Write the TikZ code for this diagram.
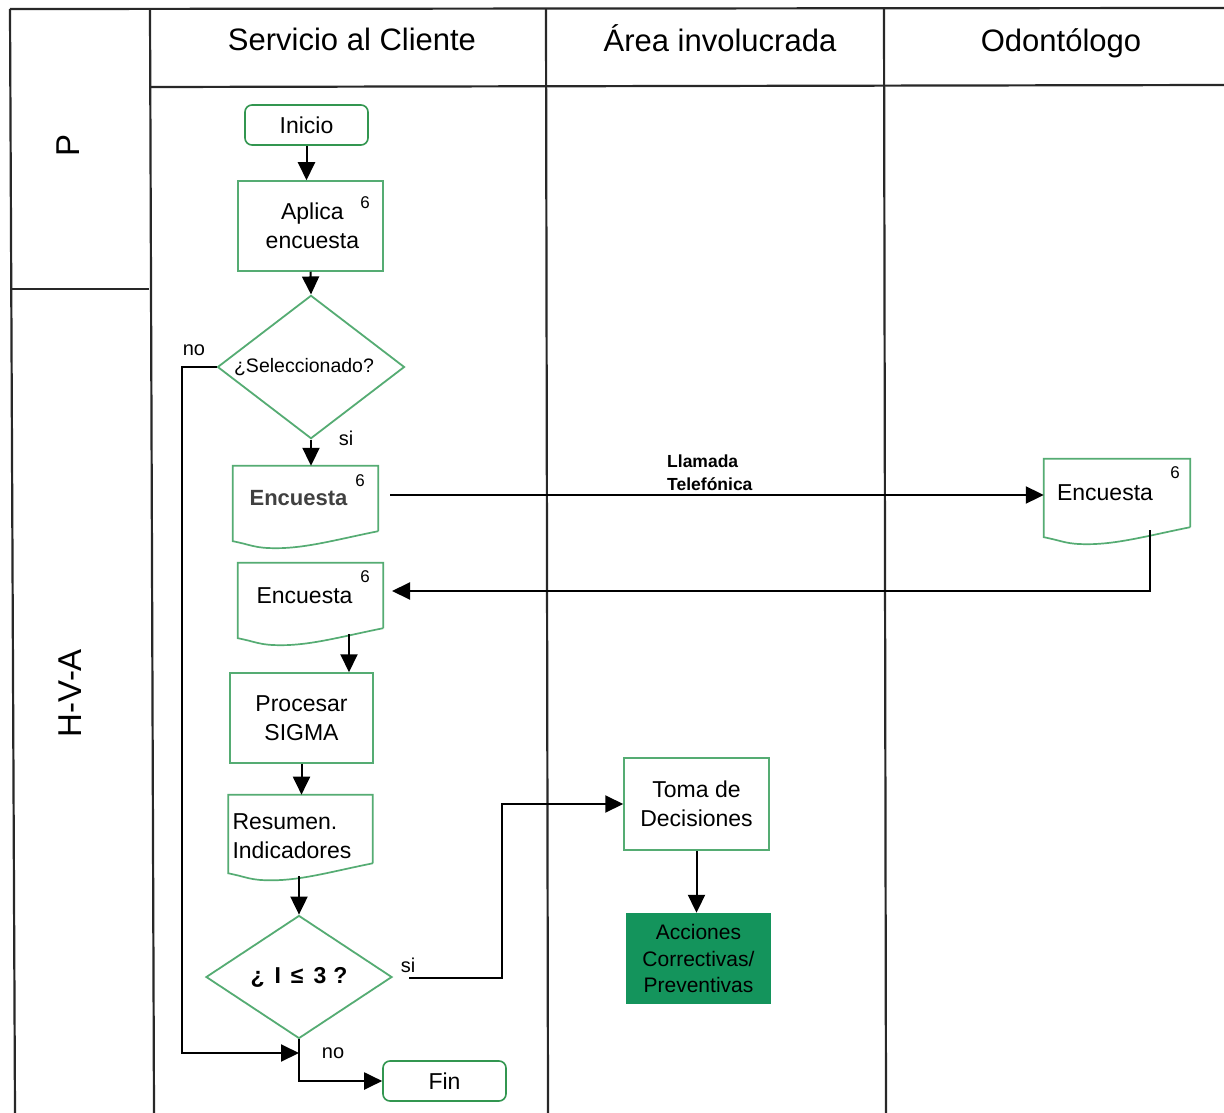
\documentclass[tikz,border=0pt]{standalone}
\usepackage{fontspec}
\setmainfont{Liberation Sans}
\usetikzlibrary{arrows.meta,shapes.geometric,calc}
\definecolor{boxgreen}{RGB}{85,172,115}
\definecolor{termgreen}{RGB}{50,150,80}
\definecolor{fillgreen}{RGB}{20,148,92}
\definecolor{frame}{RGB}{40,40,40}
\newcommand\docframe[1]{%
  \draw[docline] (#1.south east) -- (#1.north east) -- (#1.north west) -- ($(#1.south west)+(0,10)$)
   .. controls +(20,4) and +(-22,0) .. ($(#1.south west)!0.3!(#1.south east)+(0,17)$)
   .. controls +(30,0) and +(-40,8) .. (#1.south east);}
\begin{document}
\begin{tikzpicture}[x=1pt,y=-1pt,
  lane/.style={draw=frame,line width=2.2pt},
  hdr/.style={font=\fontsize{31}{36}\selectfont,anchor=base},
  side/.style={font=\fontsize{33}{38}\selectfont,rotate=90},
  procbox/.style={rectangle,draw=boxgreen,line width=1.5pt,inner sep=0pt,align=center,
    font=\fontsize{23}{29}\selectfont},
  docnode/.style={rectangle,inner sep=0pt,align=center,font=\fontsize{23}{29}\selectfont},
  docline/.style={draw=boxgreen,line width=1.7pt},
  termbox/.style={rectangle,rounded corners=7pt,draw=termgreen,line width=1.6pt,inner sep=0pt,
    font=\fontsize{23}{29}\selectfont},
  decision/.style={diamond,draw=boxgreen,line width=1.8pt,inner sep=0pt,align=center},
  sixlab/.style={font=\fontsize{17}{20}\selectfont,inner sep=0pt},
  lbl/.style={font=\fontsize{20}{24}\selectfont,inner sep=0pt},
  arr/.style={draw=black,line width=2pt,-{Triangle[length=18pt,width=17pt]}},
]
\useasboundingbox (0,0) rectangle (1224,1113);
\fill[white] (0,0) rectangle (1224,1113);

% frame
\draw[lane] (10,9) -- (1224,8);
\draw[lane] (10,9) -- (15,1113);
\draw[lane] (150,9) -- (154,1113);
\draw[lane] (546,9) -- (548,1113);
\draw[lane] (884,9) -- (886,1113);
\draw[lane] (150,87) -- (1224,85);
\draw[lane] (10,289) -- (149,289);

% headers
\node[hdr] (hsc) at (352,51) {Servicio al Cliente};
\node[hdr] (hai) at (720,52) {Área involucrada};
\node[hdr] (hod) at (1061,52) {Odontólogo};
\node[side] (lp) at (68,145) {P};
\node[side] (lhva) at (70,693) {H-V-A};

% nodes
\node[termbox,minimum width=123,minimum height=40] (inicio) at (306.5,125) {Inicio};
\node[procbox,minimum width=145,minimum height=90] (aplica) at (310.5,226) {\,Aplica\\\,encuesta};
\node[sixlab] (s1) at (365,203) {6};
\node[decision,minimum width=187,minimum height=124,font=\fontsize{19.5}{22}\selectfont] (sel) at (311,367) {\hspace*{-14pt}¿Seleccionado?};

\node[docnode,minimum width=145,minimum height=65,font=\bfseries\fontsize{22}{28}\selectfont,text=black!75] (enc1) at (305.5,498.5) {\hspace*{-14pt}Encuesta};
\docframe{enc1}
\node[sixlab] (s2) at (360,481) {6};

\node[docnode,minimum width=146,minimum height=68] (encR) at (1117,493) {\hspace*{-24pt}Encuesta};
\docframe{encR}
\node[sixlab] (s3) at (1175,473) {6};

\node[docnode,minimum width=145,minimum height=65] (enc2) at (310.5,595.5) {\hspace*{-12pt}Encuesta};
\docframe{enc2}
\node[sixlab] (s4) at (365,577) {6};

\node[procbox,minimum width=143,minimum height=90] (proc) at (301.5,718) {Procesar\\SIGMA};
\node[docnode,text width=136,inner sep=4pt,minimum height=66,align=left] (res) at (300.5,829) {\rule{0pt}{31pt}Resumen.\\Indicadores};
\docframe{res}

\node[decision,minimum width=186,minimum height=123,font=\bfseries\fontsize{23}{26}\selectfont] (cond) at (299,977) {¿\hspace{10pt}I\hspace{10pt}≤\hspace{10pt}3\hspace{7pt}?};
\node[termbox,minimum width=123,minimum height=40] (fin) at (444.5,1081) {Fin};

\node[procbox,minimum width=145,minimum height=92] (toma) at (696.5,804) {Toma de\\Decisiones};
\node[rectangle,fill=fillgreen,inner sep=0pt,minimum width=145,minimum height=91,align=center,
  font=\fontsize{21}{26.5}\selectfont] (acc) at (698.5,958.5) {Acciones\\Correctivas/\\Preventivas};

% labels
\node[lbl] (lno1) at (194,350) {no};
\node[lbl] (lsi1) at (346,438) {si};
\node[lbl] (lsi2) at (408,965) {si};
\node[lbl] (lno2) at (333,1053) {no};
\node[font=\bfseries\fontsize{17.5}{23}\selectfont,align=left,anchor=west,inner sep=0pt] (llam) at (667,473) {Llamada\\Telefónica};

% coordinates
\coordinate (nox) at (182,1053);
\coordinate (join) at (299,1053);
\coordinate (sistart) at (409,978);
\coordinate (sicorner) at (502,978);
\coordinate (e1out) at (390,495);
\coordinate (rstart) at (1150,530);
\coordinate (e2in) at (392,591);
\coordinate (e2out) at (349,634);
\coordinate (resout) at (299,876);

% connectors
\draw[arr] (inicio.south) -- (inicio.south |- aplica.north);
\draw[arr] (aplica.south) -- (sel.north);
\draw[arr] (sel.south) -- (sel.south |- enc1.north);
\draw[arr] (sel.west) -| (nox) -- (join);
\draw[arr] (e1out) -- (e1out -| encR.west);
\draw[arr] (rstart) |- (e2in);
\draw[arr] (e2out) -- (e2out |- proc.north);
\draw[arr] (proc.south) -- (proc.south |- res.north);
\draw[arr] (resout) -- (cond.north);
\draw[arr] (cond.south) |- (fin.west);
\draw[arr] (sistart) -- (sicorner) |- (toma.west);
\draw[arr] (toma.south) -- (toma.south |- acc.north);
\end{tikzpicture}
\end{document}
